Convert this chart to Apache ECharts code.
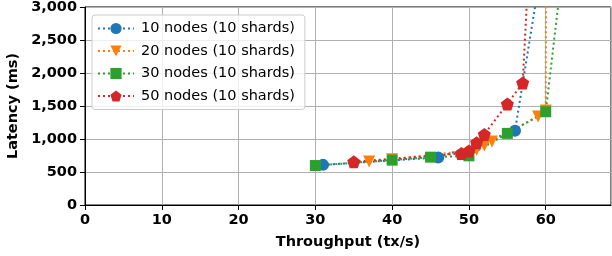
<!DOCTYPE html>
<html>
	<head>
		<meta charset="utf-8" />
		<title></title>
		<script type="text/javascript" src="https://cdn.jsdelivr.net/npm/echarts@6/dist/echarts.min.js"></script>
	</head>
	<body style="margin:0">
	    <div id="main" style="width:612px; height: 256px;"></div>
		<script>
			// data: [throughput, latency]
			var names = ['10 nodes (10 shards)', '20 nodes (10 shards)', '30 nodes (10 shards)', '50 nodes (10 shards)'];
			var nodes10 = [[31, 608], [46, 720], [56, 1125], [60, 4000]];
			var nodes20 = [[37, 658], [40, 694], [51, 836], [52, 901], [53, 963], [59, 1340], [60, 1430], [60.1, 6000]];
			var nodes30 = [[30, 598], [40, 680], [45, 725], [50, 745], [55, 1085], [60, 1413], [62, 3400]];
			var nodes50 = [[35, 655], [49, 780], [50, 820], [51, 945], [52, 1070], [55, 1530], [57, 1850], [58, 4100]];
			var colors = ['#1f77b4', '#ff7f0e', '#2ca02c', '#d62728'];
			var pentagon = 'path://M0,-1 L0.951,-0.309 L0.588,0.809 L-0.588,0.809 L-0.951,-0.309 Z';
			var symbols = ['circle', 'triangle', 'rect', pentagon];
			var sizes = [12, 12, 11, 13];
			var rotates = [0, 180, 0, 0];
			var all = [nodes10, nodes20, nodes30, nodes50];

			var font = 'DejaVu Sans';
			var chartDom = document.getElementById('main');
			var myChart = echarts.init(chartDom);

			var series = [];
			for (var i = 0; i < all.length; i++) {
				series.push({
					name: names[i],
					type: 'line',
					data: all[i],
					symbol: symbols[i],
					symbolSize: sizes[i],
					symbolRotate: rotates[i],
					clip: true,
					color: colors[i],
					itemStyle: { color: colors[i] },
					lineStyle: { color: colors[i], width: 2, type: [2, 3] },
					emphasis: { disabled: true },
					animation: false
				});
			}

			var option = {
				animation: false,
				grid: {
					left: 85, right: 1, top: 7, bottom: 51,
					outerBoundsMode: 'none', containLabel: false,
					show: true, borderColor: '#000', borderWidth: 1
				},
				legend: {
					orient: 'vertical',
					left: 92, top: 15,
					padding: [6, 10, 6, 5],
					itemWidth: 36, itemHeight: 14, itemGap: 7.5,
					backgroundColor: 'rgba(255,255,255,0.8)',
					borderColor: '#cccccc', borderWidth: 1, borderRadius: 3,
					textStyle: { fontFamily: font, fontSize: 14.5, color: '#000', padding: [0, 0, 0, 2] },
					data: names
				},
				xAxis: {
					type: 'value', min: 0, max: 68.5, interval: 10,
					name: 'Throughput (tx/s)', nameLocation: 'middle', nameGap: 30,
					nameTextStyle: { fontFamily: font, fontSize: 14.5, fontWeight: 'bold', color: '#000' },
					axisLine: { show: true, onZero: false, lineStyle: { color: '#000', width: 1 } },
					axisTick: { show: true, length: 5, lineStyle: { color: '#000' } },
					axisLabel: { margin: 8, fontFamily: font, fontSize: 14.5, fontWeight: 'bold', color: '#000', showMaxLabel: false },
					splitLine: { show: true, lineStyle: { color: '#b0b0b0', width: 1 } }
				},
				yAxis: {
					type: 'value', min: 0, max: 3000, interval: 500,
					name: 'Latency (ms)', nameLocation: 'middle', nameGap: 62, nameRotate: 90,
					nameTextStyle: { fontFamily: font, fontSize: 14.5, fontWeight: 'bold', color: '#000' },
					axisLine: { show: true, lineStyle: { color: '#000', width: 1 } },
					axisTick: { show: true, length: 5, lineStyle: { color: '#000' } },
					axisLabel: {
						margin: 8, fontFamily: font, fontSize: 14.5, fontWeight: 'bold', color: '#000',
						formatter: function (v) { return v.toLocaleString('en-US'); }
					},
					splitLine: { show: true, lineStyle: { color: '#b0b0b0', width: 1 } }
				},
				series: series
			};
			myChart.setOption(option);
		</script>
	</body>
</html>
